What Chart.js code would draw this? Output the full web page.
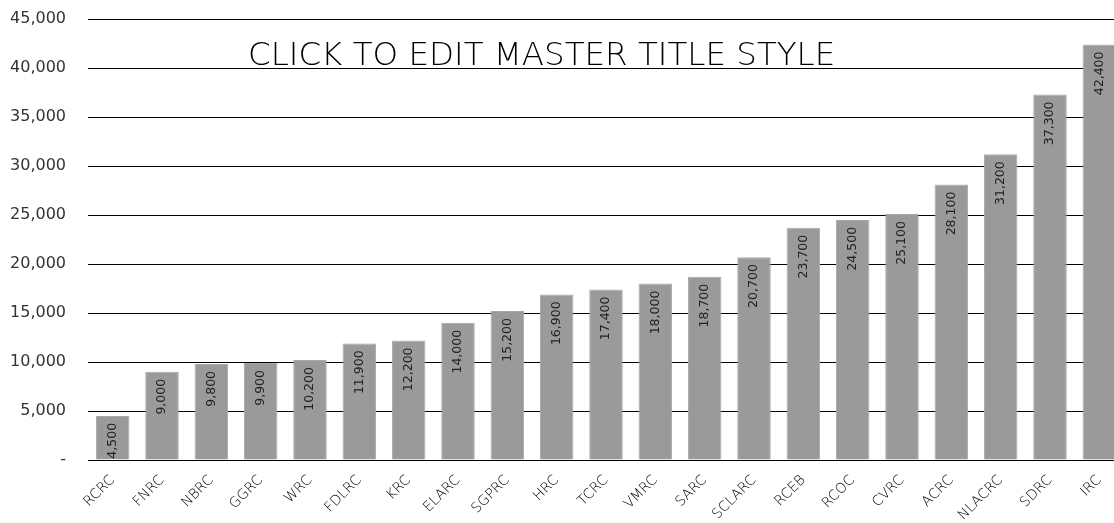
<!DOCTYPE html>
<html>
<head>
<meta charset="utf-8">
<script src="https://cdn.jsdelivr.net/npm/chart.js@4/dist/chart.umd.min.js"></script>
<style>
  html, body { margin: 0; padding: 0; background: #fff; }
  #wrap { position: relative; width: 1114px; height: 523px; overflow: hidden; }
  #title {
    position: absolute; left: 248px; top: 35px;
    font-family: "DejaVu Sans", sans-serif; font-weight: 200;
    font-size: 32.5px; color: #000; white-space: nowrap;
  }
</style>
</head>
<body>
<div id="wrap">
  <canvas id="chart" width="1124" height="523"></canvas>
  <div id="title">CLICK TO EDIT MASTER TITLE STYLE</div>
</div>
<script>
// data
const centers = ['RCRC', 'FNRC', 'NBRC', 'GGRC', 'WRC', 'FDLRC', 'KRC', 'ELARC', 'SGPRC', 'HRC', 'TCRC',
    'VMRC', 'SARC', 'SCLARC', 'RCEB', 'RCOC', 'CVRC', 'ACRC', 'NLACRC', 'SDRC', 'IRC'];
const counts = [4500, 9000, 9800, 9900, 10200, 11900, 12200, 14000, 15200, 16900, 17400,
    18000, 18700, 20700, 23700, 24500, 25100, 28100, 31200, 37300, 42400];
const yTicks = [0, 5000, 10000, 15000, 20000, 25000, 30000, 35000, 40000, 45000];

function fmt(v) {
    return v === 0 ? '-' : v.toLocaleString('en-US');
}

// label inside each bar, rotated, near top
const barLabels = {
    id: 'barLabels',
    afterDatasetsDraw(chart) {
        const ctx = chart.ctx;
        const meta = chart.getDatasetMeta(0);
        ctx.save();
        ctx.font = '12.5px "DejaVu Sans", sans-serif';
        ctx.fillStyle = '#222';
        ctx.textAlign = 'right';
        ctx.textBaseline = 'middle';
        meta.data.forEach(function (bar, i) {
            ctx.save();
            ctx.translate(bar.x, bar.y + 7);
            ctx.rotate(-Math.PI / 2);
            ctx.fillText(fmt(counts[i]), 0, 0);
            ctx.restore();
        });
        ctx.restore();
    }
};

new Chart(document.getElementById('chart').getContext('2d'), {
    type: 'bar',
    data: {
        labels: centers,
        datasets: [{
            data: counts,
            backgroundColor: '#9a9a9a',
            borderColor: '#a8a8a8',
            borderWidth: 1,
            barPercentage: 0.68,
            categoryPercentage: 1.0
        }]
    },
    options: {
        responsive: false,
        animation: false,
        layout: { padding: { top: 19, right: 0, left: 0, bottom: 0 } },
        plugins: {
            legend: { display: false },
            tooltip: { enabled: false }
        },
        scales: {
            x: {
                grid: { display: false },
                border: { display: false },
                afterFit: function (s) { s.height = 63; s.paddingLeft = 0; s.paddingRight = 0; },
                ticks: {
                    minRotation: 45,
                    maxRotation: 45,
                    autoSkip: false,
                    color: '#000',
                    padding: 4,
                    font: { family: '"DejaVu Sans", sans-serif', size: 14, weight: 200 }
                }
            },
            y: {
                min: 0,
                max: 45000,
                afterFit: function (s) { s.width = 88; s.paddingTop = 0; s.paddingBottom = 0; },
                afterBuildTicks: function (s) { s.ticks = yTicks.map(v => ({ value: v })); },
                grid: { color: '#000', lineWidth: 1, drawTicks: false },
                border: { display: false },
                ticks: {
                    padding: 22,
                    color: '#333',
                    font: { family: '"DejaVu Sans", sans-serif', size: 16 },
                    callback: function (v) { return fmt(v); }
                }
            }
        }
    },
    plugins: [barLabels]
});
</script>
</body>
</html>
